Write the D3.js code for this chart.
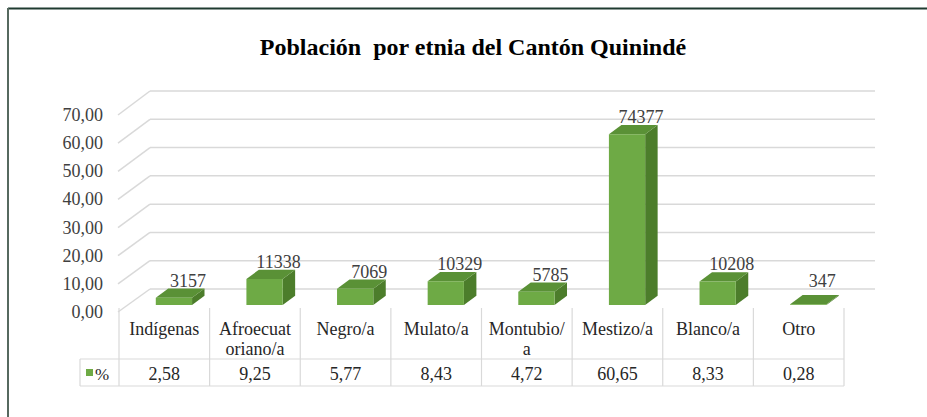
<!DOCTYPE html>
<html>
<head>
<meta charset="utf-8">
<script src="https://cdn.jsdelivr.net/npm/d3@7"></script>
<style>
  body { margin: 0; background: #fff; }
</style>
</head>
<body>
<div id="chart"></div>
<script>
// data
var categories = ["Indígenas", "Afroecuatoriano/a", "Negro/a", "Mulato/a", "Montubio/a", "Mestizo/a", "Blanco/a", "Otro"];
var categoryLines = [["Indígenas"], ["Afroecuat", "oriano/a"], ["Negro/a"], ["Mulato/a"], ["Montubio/", "a"], ["Mestizo/a"], ["Blanco/a"], ["Otro"]];
var percents = [2.58, 9.25, 5.77, 8.43, 4.72, 60.65, 8.33, 0.28];
var counts = [3157, 11338, 7069, 10329, 5785, 74377, 10208, 347];
var yTicks = [0, 10, 20, 30, 40, 50, 60, 70];
var seriesName = "%";
var title = "Población  por etnia del Cantón Quinindé";

var W = 927, H = 417;
var FONT = "Liberation Serif";

var svg = d3.select("#chart").append("svg")
  .attr("width", W)
  .attr("height", H);

var es = d3.formatLocale({decimal: ",", thousands: ".", grouping: [3], currency: ["$", ""]});
var fmt = es.format(".2f");

// outer frame (only top and left visible)
svg.append("line").attr("x1", 8).attr("x2", W).attr("y1", 8.5).attr("y2", 8.5)
  .attr("stroke", "#1f3b30").style("stroke-width", 2);
svg.append("line").attr("x1", 8).attr("x2", 8).attr("y1", 8).attr("y2", H)
  .attr("stroke", "#56695f").style("stroke-width", 2);

// title
svg.append("text")
  .attr("x", 473)
  .attr("y", 55)
  .attr("text-anchor", "middle")
  .style("font-family", FONT)
  .style("white-space", "pre")
  .style("font-size", "24px")
  .style("font-weight", "bold")
  .attr("fill", "#000")
  .text(title);

// perspective offsets (front -> back wall)
var DX = 32, DY = -23.5;

var x = d3.scaleBand()
  .domain(categories)
  .range([119, 844]);

var yFront = d3.scaleLinear().domain([0, 70]).range([312, 115]);
var yBack = d3.scaleLinear().domain([0, 70]).range([289, 91]);

// back wall gridlines
svg.selectAll("gridback")
  .data(yTicks)
  .enter()
  .append("line")
    .attr("x1", 118 + DX)
    .attr("x2", 844 + DX - 1)
    .attr("y1", function(d){ return yBack(d); })
    .attr("y2", function(d){ return yBack(d); })
    .attr("stroke", "#d9d9d9")
    .style("stroke-width", 1.5);

// side wall gridlines
svg.selectAll("gridside")
  .data(yTicks)
  .enter()
  .append("line")
    .attr("x1", 118)
    .attr("x2", 118 + DX)
    .attr("y1", function(d){ return yFront(d); })
    .attr("y2", function(d){ return yBack(d); })
    .attr("stroke", "#d9d9d9")
    .style("stroke-width", 1.5);

// y tick labels
svg.selectAll("ylabels")
  .data(yTicks)
  .enter()
  .append("text")
    .attr("x", 103)
    .attr("y", function(d){ return yFront(d) + 6; })
    .attr("text-anchor", "end")
    .style("font-family", FONT)
    .style("font-size", "18px")
    .attr("fill", "#404040")
    .text(function(d){ return fmt(d); });

// bars
var d0 = 0.3, d1 = 0.69;          // depth of bar front / back
var barW = x.bandwidth() * 0.4;
var unit = (yFront(0) - yFront(70)) / 70;

function pt(xf, v, d) {
  return [xf + DX * d, yFront(0) + DY * d - v * unit];
}

var bars = svg.selectAll("bar")
  .data(percents)
  .enter()
  .append("g");

bars.each(function(v, i) {
  var g = d3.select(this);
  var cx = x(categories[i]) + x.bandwidth() / 2;
  var xl = cx - barW / 2, xr = cx + barW / 2;
  var line = d3.line();
  // right side
  g.append("path")
    .attr("d", line([pt(xr, 0, d0), pt(xr, 0, d1), pt(xr, v, d1), pt(xr, v, d0)]) + "Z")
    .attr("fill", "#4c7d2b");
  // top
  g.append("path")
    .attr("d", line([pt(xl, v, d0), pt(xr, v, d0), pt(xr, v, d1), pt(xl, v, d1)]) + "Z")
    .attr("fill", "#5a9136");
  // front
  g.append("path")
    .attr("d", line([pt(xl, 0, d0), pt(xr, 0, d0), pt(xr, v, d0), pt(xl, v, d0)]) + "Z")
    .attr("fill", "#6eaa45");
});

// data labels (counts)
svg.selectAll("datalabels")
  .data(counts)
  .enter()
  .append("text")
    .attr("x", function(d, i){ return x(categories[i]) + x.bandwidth() / 2 + DX * d0 + 14; })
    .attr("y", function(d, i){ return Math.min(pt(0, percents[i], d1)[1] - 2, 287); })
    .attr("text-anchor", "middle")
    .style("font-family", FONT)
    .style("font-size", "18px")
    .attr("fill", "#404040")
    .text(function(d){ return d; });

// data table
var tTop = 308, tMid = 359, tBot = 386, tLeft = 80;
var bounds = categories.map(function(c){ return x(c); }).concat([x.range()[1]]);

svg.selectAll("tablev")
  .data(bounds)
  .enter()
  .append("line")
    .attr("x1", function(d){ return d; })
    .attr("x2", function(d){ return d; })
    .attr("y1", tTop)
    .attr("y2", tBot)
    .attr("stroke", "#d9d9d9")
    .style("stroke-width", 1.2);

[tMid, tBot].forEach(function(yy){
  svg.append("line")
    .attr("x1", tLeft).attr("x2", x.range()[1])
    .attr("y1", yy).attr("y2", yy)
    .attr("stroke", "#d9d9d9")
    .style("stroke-width", 1.2);
});
svg.append("line")
  .attr("x1", tLeft).attr("x2", tLeft)
  .attr("y1", tMid).attr("y2", tBot)
  .attr("stroke", "#d9d9d9")
  .style("stroke-width", 1.2);

// category labels
svg.selectAll("catlabels")
  .data(categoryLines)
  .enter()
  .append("text")
    .attr("x", function(d, i){ return x(categories[i]) + x.bandwidth() / 2; })
    .attr("y", 335)
    .attr("text-anchor", "middle")
    .style("font-family", FONT)
    .style("font-size", "18px")
    .attr("fill", "#262626")
    .each(function(lines) {
      var t = d3.select(this);
      lines.forEach(function(s, k) {
        t.append("tspan")
          .attr("x", t.attr("x"))
          .attr("dy", k === 0 ? 0 : 20)
          .text(s);
      });
    });

// value row
svg.selectAll("vallabels")
  .data(percents)
  .enter()
  .append("text")
    .attr("x", function(d, i){ return x(categories[i]) + x.bandwidth() / 2; })
    .attr("y", 380)
    .attr("text-anchor", "middle")
    .style("font-family", FONT)
    .style("font-size", "18px")
    .attr("fill", "#262626")
    .text(function(d){ return fmt(d); });

// legend key
svg.append("rect")
  .attr("x", 86).attr("y", 369)
  .attr("width", 7).attr("height", 7)
  .attr("fill", "#6eaa45");
svg.append("text")
  .attr("x", 95).attr("y", 380)
  .style("font-family", FONT)
  .style("font-size", "17px")
  .attr("fill", "#262626")
  .text(seriesName);
</script>
</body>
</html>
